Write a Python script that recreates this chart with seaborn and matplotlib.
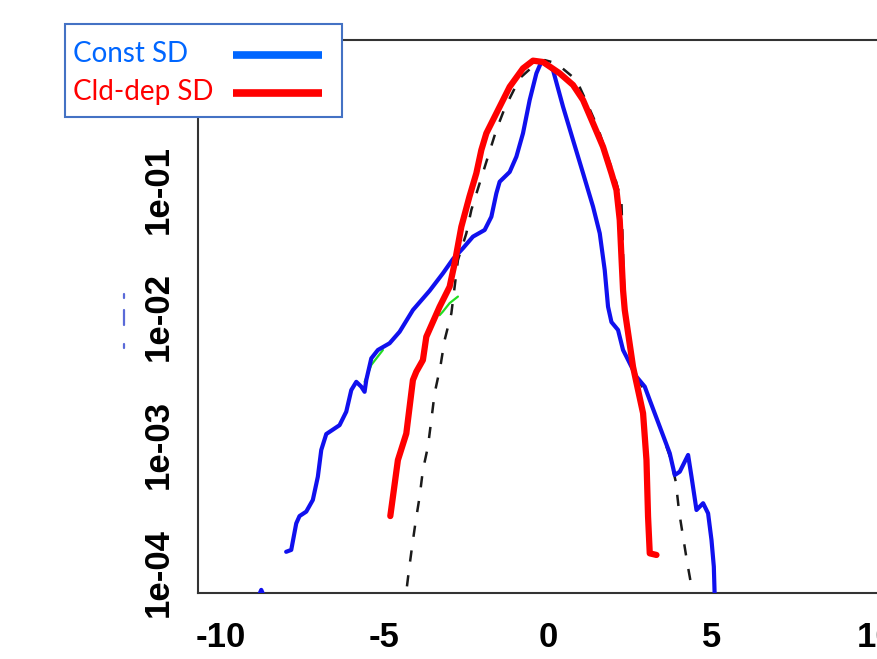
import numpy as np
import pandas as pd
import matplotlib
matplotlib.use("Agg")
import matplotlib.pyplot as plt
from matplotlib.lines import Line2D
from matplotlib.patches import Rectangle
import seaborn as sns

# ---- data: normalised densities (log scale) ----
const_x = [-7.99, -7.835, -7.682, -7.582, -7.377, -7.176, -7.023, -6.919, -6.766, -6.36,
           -6.156, -6.003, -5.85, -5.698, -5.597, -5.545, -5.392, -5.191, -4.834, -4.528,
           -4.122, -3.612, -3.206, -2.901, -2.595, -2.29, -1.933, -1.728, -1.576, -1.475,
           -1.169, -0.965, -0.763, -0.559, -0.354, -0.202, 0.052, 0.153, 0.458, 0.763,
           1.069, 1.374, 1.579, 1.731, 1.832, 1.936, 2.137, 2.29, 2.394, 2.699,
           2.953, 3.105, 3.411, 3.716, 3.868, 4.021, 4.275, 4.379, 4.531, 4.733,
           4.885, 4.989, 5.06, 5.1]
const_y = [1.45e-4, 1.50e-4, 2.42e-4, 2.76e-4, 2.99e-4, 3.69e-4, 5.61e-4, 9.08e-4, 1.21e-3, 1.42e-3,
           1.81e-3, 2.67e-3, 3.10e-3, 2.84e-3, 2.59e-3, 3.20e-3, 4.73e-3, 5.50e-3, 6.21e-3, 7.64e-3,
           1.13e-2, 1.60e-2, 2.19e-2, 2.83e-2, 3.44e-2, 4.24e-2, 4.78e-2, 6.07e-2, 9.25e-2, 0.114,
           0.136, 0.179, 0.273, 0.497, 0.804, 0.991, 0.902, 0.853, 0.441, 0.242,
           0.133, 7.28e-2, 4.50e-2, 2.32e-2, 1.20e-2, 9.10e-3, 7.89e-3, 5.50e-3, 4.88e-3, 3.40e-3,
           2.84e-3, 2.23e-3, 1.38e-3, 8.55e-4, 5.78e-4, 6.14e-4, 8.30e-4, 5.61e-4, 3.08e-4, 3.48e-4,
           2.90e-4, 1.79e-4, 1.11e-4, 5.0e-5]

# far-left tail of the constant-SD density
const_tail_x = [-8.95, -8.75, -8.55]
const_tail_y = [5.5e-5, 7.3e-5, 5.5e-5]

# pieces of the green run that show beside the blue curve
green_a_x = [-5.597, -5.45, -5.392, -5.038]
green_a_y = [3.10e-3, 3.84e-3, 4.20e-3, 5.50e-3]
green_b_x = [-3.307, -3.206, -3.002, -2.748]
green_b_y = [1.03e-2, 1.10e-2, 1.28e-2, 1.44e-2]

clddep_x = [-4.812, -4.58, -4.324, -4.122, -4.018, -3.817, -3.713, -3.307, -3.002, -2.849,
            -2.644, -2.398, -2.186, -2.034, -1.881, -1.576, -1.169, -0.763, -0.458, -0.153,
            0.357, 0.763, 1.069, 1.374, 1.679, 1.936, 2.089, 2.189, 2.241, 2.29,
            2.342, 2.595, 2.901, 3.005, 3.053, 3.105, 3.31]
clddep_y = [2.76e-4, 7.57e-4, 1.22e-3, 3.20e-3, 3.72e-3, 4.59e-3, 6.98e-3, 1.20e-2, 1.72e-2, 2.62e-2,
            5.07e-2, 8.71e-2, 0.133, 0.202, 0.273, 0.391, 0.631, 0.879, 1.01, 0.986,
            0.804, 0.652, 0.497, 0.327, 0.214, 0.133, 9.82e-2, 5.72e-2, 2.95e-2, 1.62e-2,
            1.13e-2, 4.06e-3, 1.76e-3, 7.57e-4, 2.73e-4, 1.41e-4, 1.37e-4]

normal_x = [-4.45, -4.324, -4.244, -4.141, -4.04, -3.918, -3.817, -3.664, -3.56, -3.46,
            -3.285, -3.154, -2.95, -2.748, -2.492, -2.339, -2.086, -1.832, -1.576, -1.322,
            -0.864, -0.354, -0.101, 0.256, 0.867, 1.173, 1.527, 1.783, 2.037, 2.241,
            2.342, 2.595, 3.105, 3.411, 3.716, 3.899, 4.0, 4.122, 4.244, 4.379, 4.45]
normal_y = [5.0e-5, 7.06e-5, 1.04e-4, 1.64e-4, 2.49e-4, 3.91e-4, 6.32e-4, 9.64e-4, 1.56e-3, 2.52e-3,
            4.07e-3, 6.58e-3, 1.06e-2, 2.78e-2, 4.50e-2, 6.86e-2, 0.111, 0.179, 0.290, 0.428,
            0.735, 0.964, 1.02, 0.964, 0.713, 0.482, 0.299, 0.190, 0.125, 7.96e-2,
            1.13e-2, 3.8e-3, 2.23e-3, 1.38e-3, 8.1e-4, 5.13e-4, 2.99e-4, 1.90e-4, 1.21e-4, 7.73e-5, 5.0e-5]

x_ticks = [-10, -5, 0, 5, 10]
y_ticks = [1e-1, 1e-2, 1e-3, 1e-4]
y_tick_labels = ["1e-01", "1e-02", "1e-03", "1e-04"]
legend_labels = ["Const SD", "Cld-dep SD"]
legend_colors = ["#0066FF", "#FF0000"]

W, H = 878, 659


def fx(px):
    return px / W


def fy(py):
    return 1 - py / H


# ---- figure ----
sns.set_style("white")
plt.rcParams["font.family"] = ["Liberation Sans", "DejaVu Sans"]

fig = plt.figure(figsize=(W / 100, H / 100), dpi=100)
ax = fig.add_axes([fx(198), fy(593), 700 / W, 553 / H])

df_norm = pd.DataFrame({"x": normal_x, "y": normal_y})
df_const = pd.DataFrame({"x": const_x, "y": const_y})
df_tail = pd.DataFrame({"x": const_tail_x, "y": const_tail_y})
df_green_a = pd.DataFrame({"x": green_a_x, "y": green_a_y})
df_green_b = pd.DataFrame({"x": green_b_x, "y": green_b_y})
df_cld = pd.DataFrame({"x": clddep_x, "y": clddep_y})

sns.lineplot(data=df_norm, x="x", y="y", ax=ax, color="#1a1a1a", lw=1.8,
             linestyle=(0, (4.5, 5.5)), estimator=None, sort=False, zorder=2)
for df_g in (df_green_a, df_green_b):
    sns.lineplot(data=df_g, x="x", y="y", ax=ax, color="#22DD22", lw=1.6,
                 estimator=None, sort=False, zorder=2.5)
sns.lineplot(data=df_const, x="x", y="y", ax=ax, color="#1010EE", lw=3.0,
             estimator=None, sort=False, zorder=3)
sns.lineplot(data=df_tail, x="x", y="y", ax=ax, color="#1010EE", lw=3.0,
             estimator=None, sort=False, zorder=3)
sns.lineplot(data=df_cld, x="x", y="y", ax=ax, color="#FF0000", lw=4.5,
             estimator=None, sort=False, zorder=4)

ax.set_yscale("log")
ax.set_xlim(-10.68, 10.68)
ax.set_ylim(10 ** -4.161, 10 ** 0.166)
ax.set_xlabel("")
ax.set_ylabel("")

ax.set_xticks(x_ticks)
ax.set_xticklabels([str(t) for t in x_ticks], fontsize=25, fontweight="bold")
ax.set_yticks(y_ticks)
ax.set_yticklabels(y_tick_labels, fontsize=25, fontweight="bold",
                   rotation=90, va="center")
ax.yaxis.set_minor_locator(matplotlib.ticker.NullLocator())
ax.tick_params(axis="both", which="major", direction="out", length=15, width=1.5,
               color="#333333", labelcolor="black")
ax.tick_params(axis="x", pad=5)
ax.tick_params(axis="y", pad=2)

for side in ["left", "bottom", "top", "right"]:
    ax.spines[side].set_visible(True)
    ax.spines[side].set_color("#333333")
    ax.spines[side].set_linewidth(1.5)

# small blue dotted mark left of the y tick labels
for y0, y1 in [(294, 298), (310, 325), (344, 348)]:
    fig.add_artist(Line2D([fx(124), fx(124)], [fy(y0), fy(y1)], transform=fig.transFigure,
                          color="#5a6ad8", lw=1.6, solid_capstyle="round"))

# ---- legend box (text left, line sample right) ----
fig.add_artist(Rectangle((fx(65), fy(117)), 277 / W, 93 / H, transform=fig.transFigure,
                         facecolor="white", edgecolor="#4472C4", lw=1.5, zorder=10))
for label, color, base in zip(legend_labels, legend_colors, [62, 100]):
    fig.text(fx(73), fy(base), label, color=color, fontsize=20, family="Lato",
             ha="left", va="baseline", zorder=11)
    fig.add_artist(Line2D([fx(233), fx(322)], [fy(base - 7), fy(base - 7)],
                          transform=fig.transFigure, color=color, lw=5.5,
                          solid_capstyle="butt", zorder=11))

fig.savefig("out.png", dpi=100, facecolor="white")
